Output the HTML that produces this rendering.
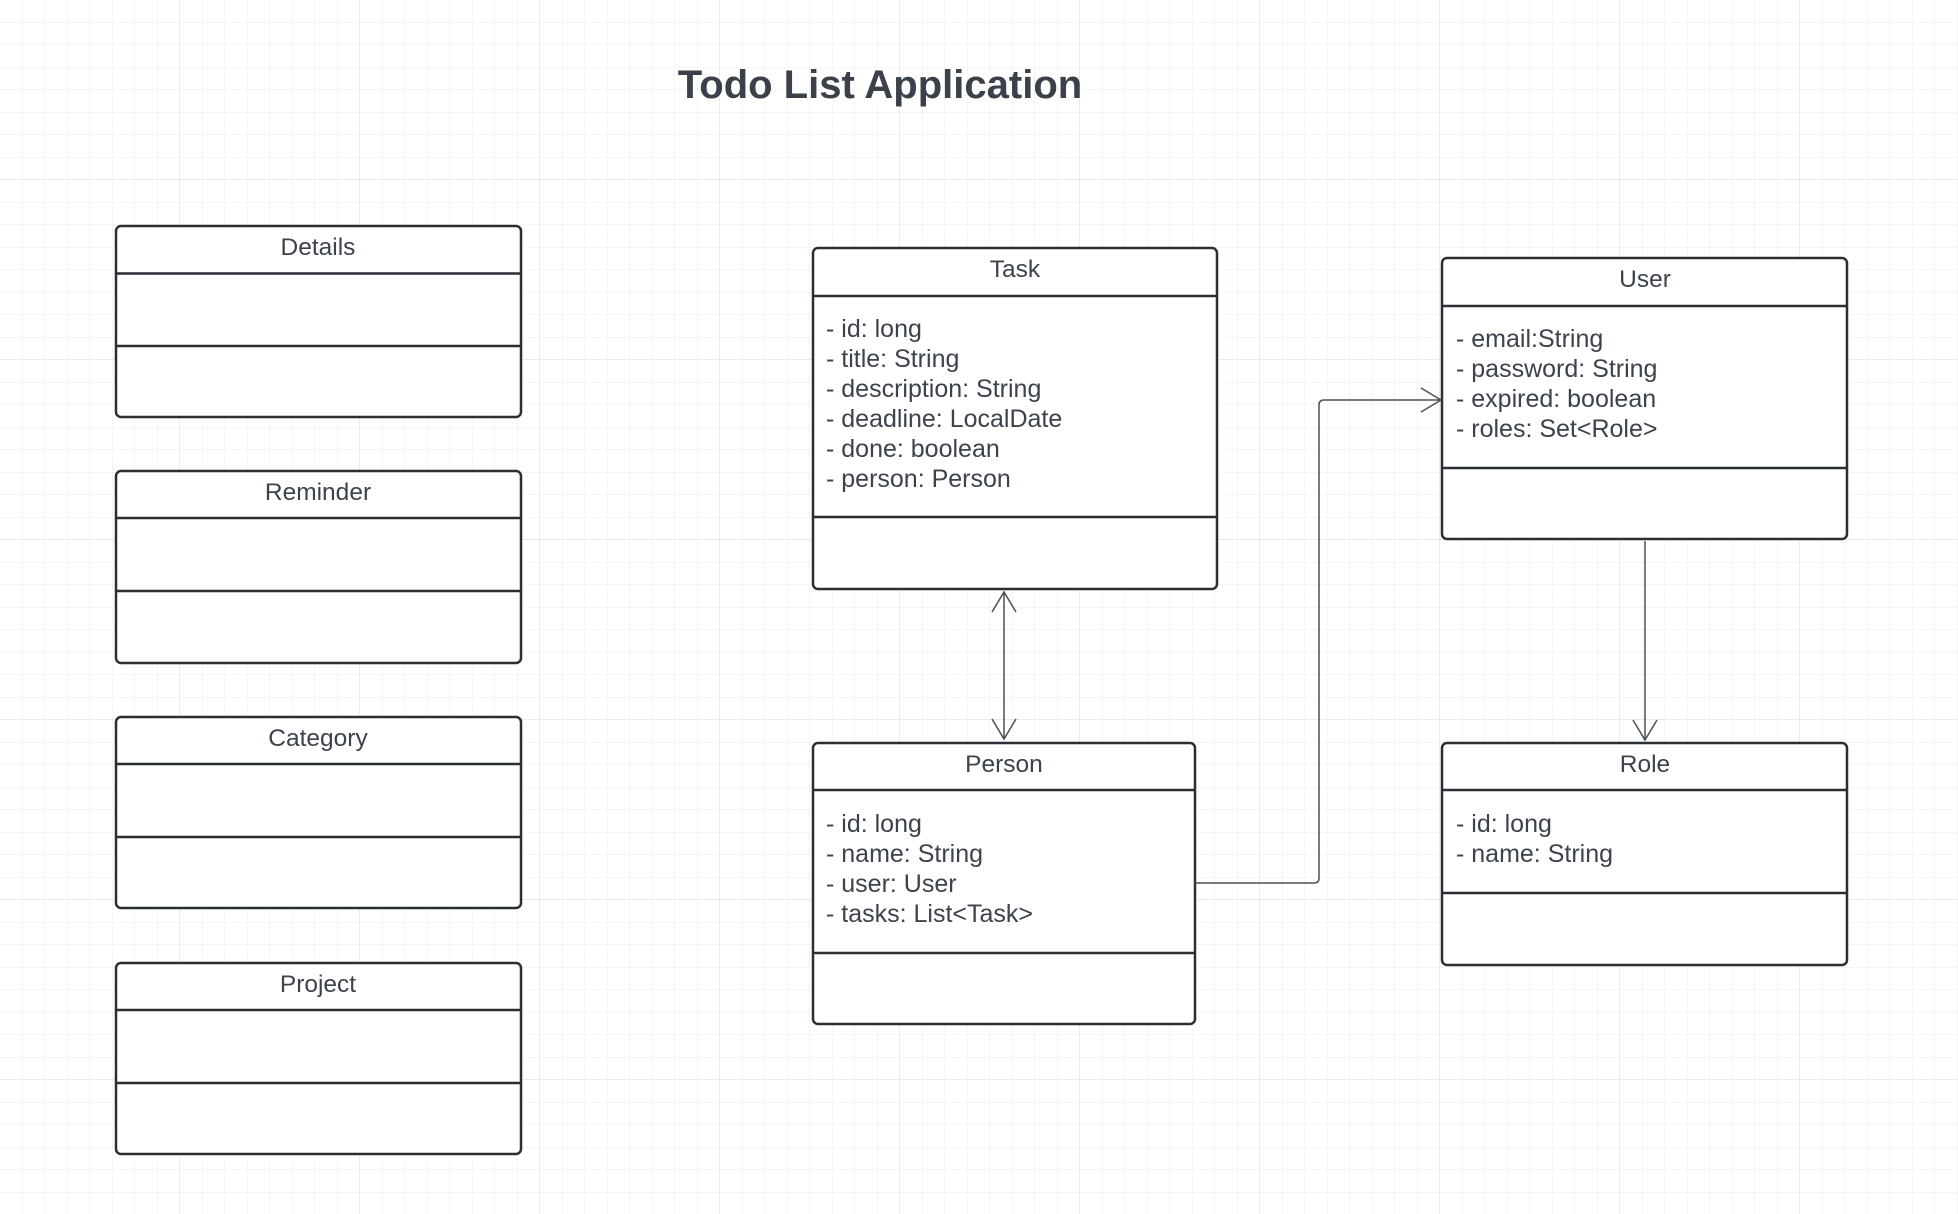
<!DOCTYPE html>
<html><head><meta charset="utf-8"><style>
html,body{margin:0;padding:0;background:#fff;}
svg{display:block;}
text{font-family:"Liberation Sans",sans-serif;fill:#3c434d;}
</style></head><body>
<svg width="1958" height="1214" viewBox="0 0 1958 1214" xmlns="http://www.w3.org/2000/svg">
<defs>
<pattern id="g" x="0" y="0" width="22.5" height="22.5" patternUnits="userSpaceOnUse">
<path d="M22.5 0V22.5M0 22.5H22.5" stroke="#ececec" stroke-width="1" fill="none"/>
</pattern>
<pattern id="G" x="0" y="0" width="180" height="180" patternUnits="userSpaceOnUse">
<path d="M180 0V180M0 180H180" stroke="#dedede" stroke-width="1.2" fill="none"/>
</pattern>
</defs>
<rect width="1958" height="1214" fill="#fff"/>
<rect width="1958" height="1214" fill="url(#g)"/>
<rect width="1958" height="1214" fill="url(#G)"/>
<text x="880" y="98" text-anchor="middle" font-size="40" font-weight="bold" style="fill:#3a414a">Todo List Application</text>

<g fill="#fff" stroke="#2a2f36" stroke-width="2.5">
<rect x="116" y="226" width="405" height="191" rx="5"/><path d="M116 273.5H521M116 346H521"/>
<rect x="116" y="471" width="405" height="192" rx="5"/><path d="M116 518H521M116 591H521"/>
<rect x="116" y="717" width="405" height="191" rx="5"/><path d="M116 764H521M116 837H521"/>
<rect x="116" y="963" width="405" height="191" rx="5"/><path d="M116 1010H521M116 1083H521"/>
<rect x="813" y="248" width="404" height="341" rx="5"/><path d="M813 296H1217M813 517H1217"/>
<rect x="813" y="743" width="382" height="281" rx="5"/><path d="M813 790H1195M813 953H1195"/>
<rect x="1442" y="258" width="405" height="281" rx="5"/><path d="M1442 306H1847M1442 468H1847"/>
<rect x="1442" y="743" width="405" height="222" rx="5"/><path d="M1442 790H1847M1442 893H1847"/>
</g>

<g font-size="24.5" text-anchor="middle">
<text x="318" y="255">Details</text>
<text x="318" y="500">Reminder</text>
<text x="318" y="746">Category</text>
<text x="318" y="992">Project</text>
<text x="1015" y="277">Task</text>
<text x="1004" y="772">Person</text>
<text x="1645" y="287">User</text>
<text x="1645" y="772">Role</text>
</g>
<g font-size="25">
<text x="826" y="337">- id: long</text>
<text x="826" y="367">- title: String</text>
<text x="826" y="397">- description: String</text>
<text x="826" y="427">- deadline: LocalDate</text>
<text x="826" y="457">- done: boolean</text>
<text x="826" y="487">- person: Person</text>
<text x="826" y="832">- id: long</text>
<text x="826" y="862">- name: String</text>
<text x="826" y="892">- user: User</text>
<text x="826" y="922">- tasks: List&lt;Task&gt;</text>
<text x="1456" y="347">- email:String</text>
<text x="1456" y="377">- password: String</text>
<text x="1456" y="407">- expired: boolean</text>
<text x="1456" y="437">- roles: Set&lt;Role&gt;</text>
<text x="1456" y="832">- id: long</text>
<text x="1456" y="862">- name: String</text>
</g>

<g fill="none" stroke="#4a5058" stroke-width="1.5">
<path d="M1004 592V739"/>
<path d="M992 612L1004 592L1016 612"/>
<path d="M992 719L1004 739L1016 719"/>
<path d="M1645 541V740"/>
<path d="M1633 720L1645 740L1657 720"/>
<path d="M1195 883H1314Q1319 883 1319 878V405Q1319 400 1324 400H1441"/>
<path d="M1421 388L1441 400L1421 412"/>
</g>
</svg>
</body></html>
